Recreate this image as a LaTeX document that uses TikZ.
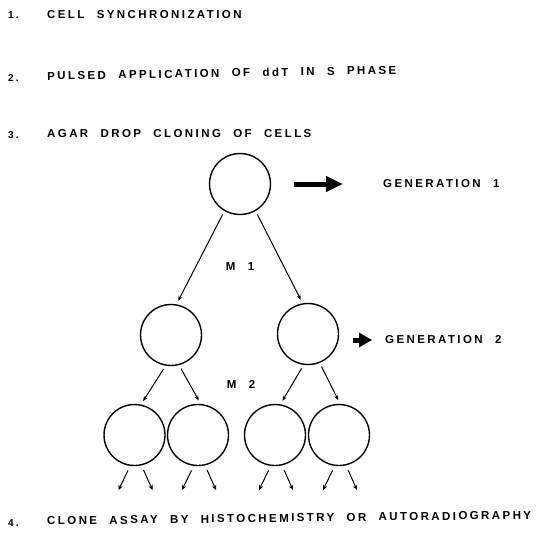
\documentclass[tikz,border=0pt]{standalone}
\usepackage{fontspec}
\usepackage{tikz}
\usetikzlibrary{arrows.meta,positioning,calc}
\newfontfamily\capsfont[UprightFont={* Bold},LetterSpace=21,WordSpace=2.2]{Liberation Sans}

\tikzset{
  cell/.style={circle, draw, line width=1.4pt, minimum size=61pt, inner sep=0pt},
  link/.style={-{Stealth[length=5pt,width=4pt]}, line width=1pt,
               shorten <=4pt, shorten >=4pt},
  leaf/.style={-{Stealth[length=5pt,width=4.5pt]}, line width=1pt, shorten <=5pt},
  bigarrow/.style={-{Triangle[length=17pt,width=15pt]}, line width=5pt},
  stage/.style={anchor=west, inner sep=0pt, font=\capsfont\fontsize{11.5}{13}\selectfont},
  num/.style={anchor=west, inner sep=0pt, font=\capsfont\fontsize{10}{12}\selectfont},
}

\begin{document}
\begin{tikzpicture}[x=1pt, y=-1pt]
  \useasboundingbox (0,0) rectangle (545,549);

  % protocol steps
  \node[num]   (n1) at (8,15)  {1.};
  \node[stage] (s1) at (47,15) {CELL SYNCHRONIZATION};
  \node[num]   (n2) at (8,78)  {2.};
  \node[stage, rotate=1] (s2) at (47,76) {PULSED APPLICATION OF ddT IN S PHASE};
  \node[num]   (n3) at (8,135) {3.};
  \node[stage] (s3) at (47,134) {AGAR DROP CLONING OF CELLS};
  \node[num]   (n4) at (8,523) {4.};
  \node[stage, rotate=0.7] (s4) at (47,521) {CLONE ASSAY BY HISTOCHEMISTRY OR AUTORADIOGRAPHY};

  % clone tree
  \node[cell] (g1)  at (240,184) {};
  \node[cell] (g2l) at (171,335) {};
  \node[cell] (g2r) at (308,334) {};
  \node[cell] (g3a) at (134.5,435) {};
  \node[cell] (g3b) at (198,435) {};
  \node[cell] (g3c) at (275,435) {};
  \node[cell] (g3d) at (339,435) {};

  \node[stage, anchor=center] (m1) at (240,267) {M 1};
  \node[stage, anchor=center] (m2) at (241,384) {M 2};

  \draw[link] (g1.240) -- (g2l.80);
  \draw[link] (g1.300) -- (g2r.100);
  \draw[link] (g2l.260) -- (g3a.78);
  \draw[link] (g2l.285) -- (g3b.85);
  \draw[link] (g2r.262) -- (g3c.80);
  \draw[link] (g2r.292) -- (g3d.88);

  \foreach \c in {g3a,g3b,g3c,g3d}{
    \coordinate (\c l) at ($(\c)+(-16,55)$);
    \coordinate (\c r) at ($(\c)+(18,55)$);
    \draw[leaf] (\c.262) -- (\c l);
    \draw[leaf] (\c.283) -- (\c r);
  }

  % generation markers
  \node[stage] (gen1) at (383,184) {GENERATION 1};
  \node[stage] (gen2) at (385,340) {GENERATION 2};
  \draw[bigarrow, shorten <=23pt, shorten >=40pt] (g1.east) -- (gen1.west);
  \draw[bigarrow, -{Triangle[length=13pt,width=14pt]}, shorten <=14pt, shorten >=13pt]
    (g2r.east |- gen2.west) -- (gen2.west);
\end{tikzpicture}
\end{document}
